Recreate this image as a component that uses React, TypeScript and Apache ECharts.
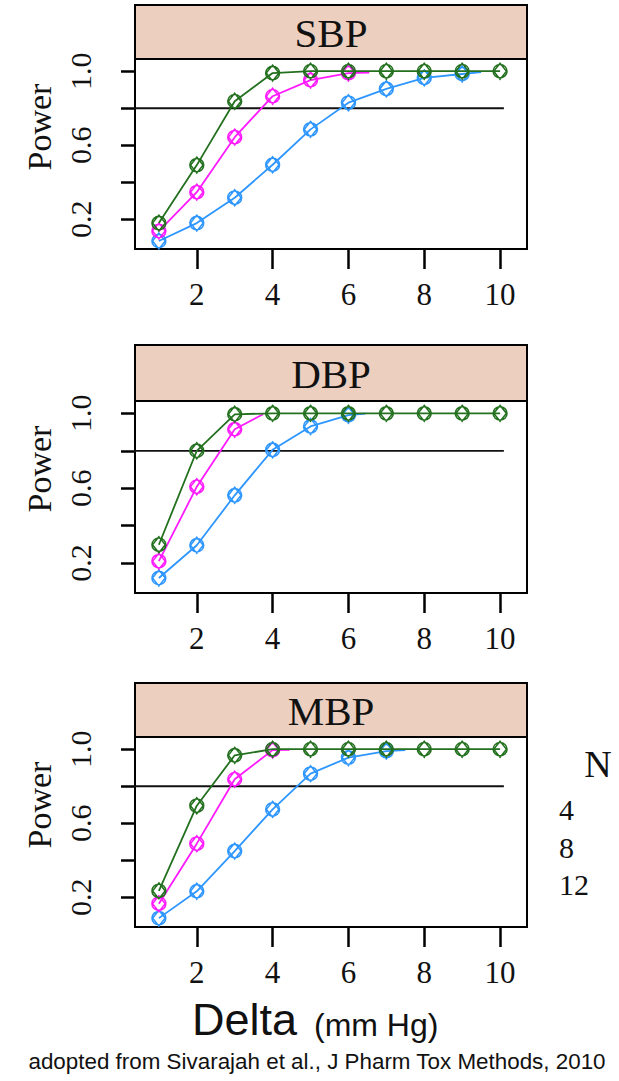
import React, { useEffect, useRef } from "react";
import * as echarts from "echarts";

// ---------- data ----------
const deltas = [1, 2, 3, 4, 5, 6, 7, 8, 9, 10];
const panelNames = ["SBP", "DBP", "MBP"];
const groupNames = ["4", "8", "12"];

// Power values at integer Delta (mm Hg), per panel and per N
const sbpN4 = [0.083, 0.18, 0.317, 0.495, 0.686, 0.83, 0.905, 0.964, 0.985];
const sbpN8 = [0.137, 0.347, 0.644, 0.865, 0.952, 0.99];
const sbpN12 = [0.18, 0.493, 0.838, 0.99, 1, 1, 1, 1, 1, 1];
const sbpTailN4 = [9.5, 0.995];
const sbpTailN8 = [6.55, 0.993];

const dbpN4 = [0.12, 0.295, 0.562, 0.805, 0.93, 0.99];
const dbpN8 = [0.21, 0.608, 0.915];
const dbpN12 = [0.298, 0.8, 0.995, 1, 1, 1, 1, 1, 1, 1];
const dbpTailN4 = [6.45, 0.998];
const dbpTailN8 = [3.75, 0.995];

const mbpN4 = [0.088, 0.233, 0.45, 0.675, 0.868, 0.955, 0.99];
const mbpN8 = [0.166, 0.49, 0.838, 0.995];
const mbpN12 = [0.235, 0.695, 0.967, 1, 1, 1, 1, 1, 1, 1];
const mbpTailN4 = [7.5, 0.995];
const mbpTailN8 = [4.45, 0.997];

const panelValues = [
  [sbpN4, sbpN8, sbpN12],
  [dbpN4, dbpN8, dbpN12],
  [mbpN4, mbpN8, mbpN12],
];
const panelTails = [
  [sbpTailN4, sbpTailN8, null],
  [dbpTailN4, dbpTailN8, null],
  [mbpTailN4, mbpTailN8, null],
];

const refLevel = 0.8;
const refSpan = [0, 10.1];
const yTickValues = [0.2, 0.4, 0.6, 0.8, 1.0];
const yLabelValues = [0.2, 0.6, 1.0];
const xTickValues = [2, 4, 6, 8, 10];
const xRange = [0.37, 10.71];
const yRange = [0.04, 1.066];

// ---------- styling / layout ----------
const groupColors = ["#2e96ff", "#ff1aff", "#23701f"];
const SERIF = '"Liberation Serif", "DejaVu Serif", serif';
const SANS = '"Liberation Sans", Arial, sans-serif';
const BOX_L = 135;
const BOX_W = 392;
const stripTops = [5, 345, 683];
const stripHs = [54, 56, 54];
const plotHs = [190, 192, 190];
const markerPath =
  "path://M0,-10A10,10,0,1,1,0,10A10,10,0,1,1,0,-10ZM0,-12L9,0L0,12L-9,0Z";

export default function App() {
  const ref = useRef<HTMLDivElement>(null);

  useEffect(() => {
    if (!ref.current) return;
    const chart = echarts.init(ref.current, null, { renderer: "svg" });

    const grids: any[] = [];
    const xAxes: any[] = [];
    const yAxes: any[] = [];
    const series: any[] = [];
    const graphics: any[] = [];

    panelNames.forEach((name, p) => {
      const stripTop = stripTops[p];
      const plotTop = stripTop + stripHs[p];
      const plotH = plotHs[p];
      grids.push({
        left: BOX_L,
        top: plotTop,
        width: BOX_W,
        height: plotH,
        show: true,
        borderColor: "#000",
        borderWidth: 2,
        backgroundColor: "transparent",
      });
      xAxes.push({
        gridIndex: p,
        type: "value",
        min: xRange[0],
        max: xRange[1],
        axisLine: { show: true, lineStyle: { color: "#000", width: 2 } },
        axisTick: {
          show: true,
          length: 20,
          customValues: xTickValues,
          lineStyle: { color: "#000", width: 2.5 },
        },
        axisLabel: {
          customValues: xTickValues,
          fontSize: 31,
          fontFamily: SERIF,
          color: "#111",
          margin: 30,
          formatter: (v: number) => String(v),
        },
        splitLine: { show: false },
      });
      yAxes.push({
        gridIndex: p,
        type: "value",
        min: yRange[0],
        max: yRange[1],
        axisLine: { show: true, lineStyle: { color: "#000", width: 2 } },
        axisTick: {
          show: true,
          length: 14,
          customValues: yTickValues,
          lineStyle: { color: "#000", width: 2.5 },
        },
        axisLabel: {
          customValues: yLabelValues,
          rotate: 90,
          fontSize: 30,
          fontFamily: SERIF,
          color: "#111",
          margin: 40,
          formatter: (v: number) => v.toFixed(1),
        },
        splitLine: { show: false },
      });

      // reference line at power 0.8
      series.push({
        type: "line",
        xAxisIndex: p,
        yAxisIndex: p,
        data: refSpan.map((x) => [x, refLevel]),
        symbol: "none",
        lineStyle: { color: "#111", width: 1.8 },
        clip: true,
        silent: true,
        z: 2,
      });

      panelValues[p].forEach((vals, g) => {
        const data: any[] = vals.map((v, i) => [deltas[i], v]);
        const tail = panelTails[p][g];
        if (tail) data.push({ value: tail, symbol: "none" });
        series.push({
          type: "line",
          name: groupNames[g],
          xAxisIndex: p,
          yAxisIndex: p,
          data,
          symbol: markerPath,
          symbolSize: [14, 16],
          lineStyle: { color: groupColors[g], width: 1.8 },
          itemStyle: {
            color: "rgba(255,255,255,0)",
            borderColor: groupColors[g],
            borderWidth: 1.5,
          },
          clip: true,
          z: 3 + g,
        });
      });

      // strip
      graphics.push({
        type: "rect",
        shape: { x: BOX_L, y: stripTop, width: BOX_W, height: stripHs[p] },
        style: { fill: "#eccfbe", stroke: "#000", lineWidth: 2 },
        z: 10,
      });
      graphics.push({
        type: "text",
        x: BOX_L + BOX_W / 2,
        y: stripTop + stripHs[p] / 2 + 1,
        style: {
          text: name,
          fontSize: 41,
          fontFamily: SERIF,
          fill: "#111",
          align: "center",
          verticalAlign: "middle",
        },
        z: 11,
      });
      // Power label
      graphics.push({
        type: "text",
        x: 39,
        y: (stripTop + plotTop + plotH) / 2,
        rotation: Math.PI / 2,
        style: {
          text: "Power",
          fontSize: 34,
          fontFamily: SERIF,
          fill: "#111",
          align: "center",
          verticalAlign: "middle",
        },
        z: 11,
      });
    });

    // legend (key)
    graphics.push({
      type: "text",
      x: 598,
      y: 764,
      style: { text: "N", fontSize: 38, fontFamily: SERIF, fill: "#111", align: "center", verticalAlign: "middle" },
    });
    const legendYs = [809, 847, 884];
    groupNames.forEach((g, i) => {
      graphics.push({
        type: "text",
        x: 559,
        y: legendYs[i],
        style: { text: g, fontSize: 30, fontFamily: SERIF, fill: "#111", align: "left", verticalAlign: "middle" },
      });
    });

    // x-axis title
    graphics.push({
      type: "text",
      x: 192,
      y: 1042,
      style: { text: "Delta", fontSize: 45, fontFamily: SANS, fill: "#111", align: "left", verticalAlign: "bottom" },
    });
    graphics.push({
      type: "text",
      x: 314,
      y: 1041,
      style: { text: "(mm Hg)", fontSize: 32, fontFamily: SANS, fill: "#111", align: "left", verticalAlign: "bottom" },
    });
    // source caption
    graphics.push({
      type: "text",
      x: 317,
      y: 1061,
      style: {
        text: "adopted from Sivarajah et al., J Pharm Tox Methods, 2010",
        fontSize: 22.4,
        fontFamily: SANS,
        fill: "#111",
        align: "center",
        verticalAlign: "middle",
      },
    });

    chart.setOption({
      animation: false,
      backgroundColor: "#fff",
      grid: grids,
      xAxis: xAxes,
      yAxis: yAxes,
      series,
      graphic: graphics,
    });

    return () => chart.dispose();
  }, []);

  return (
    <div
      ref={ref}
      style={{ position: "absolute", left: 0, top: 0, width: 619, height: 1081 }}
    />
  );
}
